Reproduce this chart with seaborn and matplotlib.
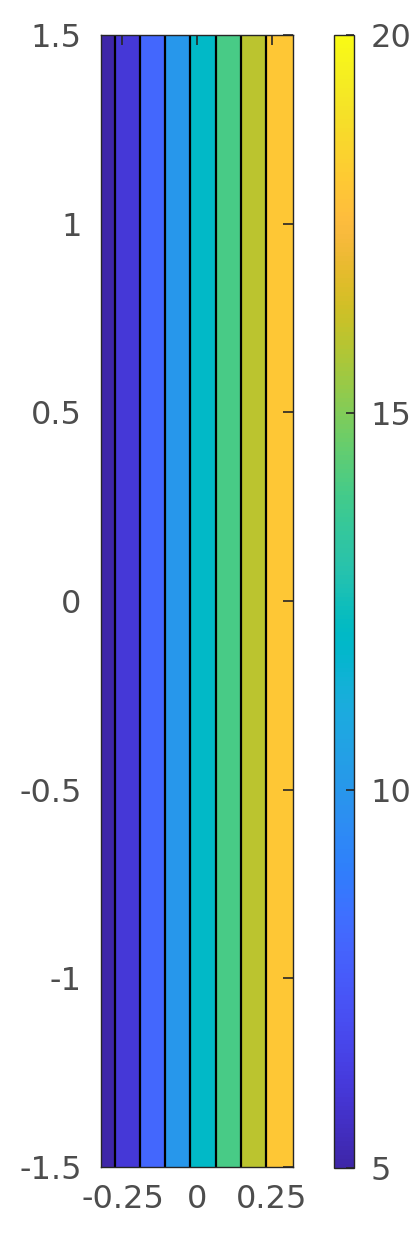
import numpy as np
import seaborn as sns
import matplotlib.pyplot as plt
import matplotlib as mpl

# field: z grows linearly from left to right, constant along y
x_edges = [-0.322, 0.322]
y_edges = [-1.5, 1.5]
z_left_right = [4.9, 20.15]

# contour levels (MATLAB style: band colored by its lower level)
contour_levels = [6, 8, 10, 12, 14, 16, 18]
band_values = [5, 6, 8, 10, 12, 14, 16, 18]

x_ticks = [-0.25, 0, 0.25]
x_ticklabels = ['-0.25', '0', '0.25']
y_ticks = [-1.5, -1, -0.5, 0, 0.5, 1, 1.5]
y_ticklabels = ['-1.5', '-1', '-0.5', '0', '0.5', '1', '1.5']
cbar_ticks = [5, 10, 15, 20]
cbar_ticklabels = ['5', '10', '15', '20']
clim = [5, 20]

# parula(64)
parula = [
    (0.2422, 0.1504, 0.6603), (0.2504, 0.1650, 0.7076), (0.2578, 0.1818, 0.7511), (0.2647, 0.1978, 0.7952),
    (0.2706, 0.2147, 0.8364), (0.2751, 0.2342, 0.8710), (0.2783, 0.2559, 0.8991), (0.2803, 0.2782, 0.9221),
    (0.2813, 0.3006, 0.9414), (0.2810, 0.3228, 0.9579), (0.2795, 0.3447, 0.9717), (0.2760, 0.3667, 0.9829),
    (0.2699, 0.3892, 0.9906), (0.2602, 0.4123, 0.9952), (0.2440, 0.4358, 0.9988), (0.2206, 0.4603, 0.9973),
    (0.1963, 0.4847, 0.9892), (0.1834, 0.5074, 0.9798), (0.1786, 0.5289, 0.9682), (0.1764, 0.5499, 0.9520),
    (0.1687, 0.5703, 0.9359), (0.1540, 0.5902, 0.9218), (0.1460, 0.6091, 0.9079), (0.1380, 0.6276, 0.8973),
    (0.1248, 0.6459, 0.8883), (0.1113, 0.6635, 0.8763), (0.0952, 0.6798, 0.8598), (0.0689, 0.6948, 0.8394),
    (0.0297, 0.7082, 0.8163), (0.0036, 0.7203, 0.7917), (0.0067, 0.7312, 0.7660), (0.0433, 0.7411, 0.7394),
    (0.0964, 0.7500, 0.7120), (0.1408, 0.7584, 0.6842), (0.1717, 0.7670, 0.6554), (0.1938, 0.7758, 0.6251),
    (0.2161, 0.7843, 0.5923), (0.2470, 0.7918, 0.5567), (0.2906, 0.7973, 0.5188), (0.3406, 0.8008, 0.4789),
    (0.3909, 0.8029, 0.4354), (0.4456, 0.8024, 0.3909), (0.5044, 0.7993, 0.3480), (0.5616, 0.7942, 0.3045),
    (0.6174, 0.7876, 0.2612), (0.6720, 0.7793, 0.2227), (0.7242, 0.7698, 0.1910), (0.7738, 0.7598, 0.1646),
    (0.8203, 0.7498, 0.1535), (0.8634, 0.7406, 0.1596), (0.9035, 0.7330, 0.1774), (0.9393, 0.7288, 0.2100),
    (0.9728, 0.7298, 0.2394), (0.9956, 0.7434, 0.2371), (0.9970, 0.7659, 0.2199), (0.9952, 0.7893, 0.2028),
    (0.9892, 0.8136, 0.1885), (0.9786, 0.8386, 0.1766), (0.9676, 0.8639, 0.1643), (0.9610, 0.8890, 0.1537),
    (0.9597, 0.9135, 0.1423), (0.9628, 0.9373, 0.1265), (0.9691, 0.9606, 0.1064), (0.9769, 0.9839, 0.0805),
]

sns.set_style("white")
plt.rcParams['font.family'] = ['DejaVu Sans']
plt.rcParams['axes.unicode_minus'] = False

cmap = sns.blend_palette(parula, n_colors=256, as_cmap=True)
norm = mpl.colors.Normalize(vmin=clim[0], vmax=clim[1])

X, Y = np.meshgrid(x_edges, y_edges)
Z = np.array([z_left_right, z_left_right])

W, H = 419, 1240
fig = plt.figure(figsize=(W / 100, H / 100), dpi=100)
ax = fig.add_axes([101 / W, 1 - 1167 / H, 192 / W, 1132 / H])
cax = fig.add_axes([334 / W, 1 - 1168 / H, 20 / W, 1133 / H])

fill_levels = [min(z_left_right) - 1] + contour_levels + [max(z_left_right) + 1]
ax.contourf(X, Y, Z, levels=fill_levels, colors=[cmap(norm(v)) for v in band_values])
ax.contour(X, Y, Z, levels=contour_levels, colors='k', linewidths=1.6)
ax.set_axisbelow(False)

ax.set_xlim(x_edges)
ax.set_ylim(y_edges)
ax.set_xticks(x_ticks)
ax.set_xticklabels(x_ticklabels)
ax.set_yticks(y_ticks)
ax.set_yticklabels(y_ticklabels)

axis_col = '#262626'
text_col = '#4d4d4d'
fs = 23
for spine in ax.spines.values():
    spine.set_visible(True)
    spine.set_color(axis_col)
    spine.set_linewidth(1.0)
ax.tick_params(axis='both', direction='in', length=7, width=1.2, color=axis_col,
               labelcolor=text_col, labelsize=fs, top=True, right=True)
ax.tick_params(axis='y', pad=14)
ax.tick_params(axis='x', pad=12)

sm = mpl.cm.ScalarMappable(norm=norm, cmap=cmap)
cb = fig.colorbar(sm, cax=cax)
cb.set_ticks(cbar_ticks)
cb.set_ticklabels(cbar_ticklabels)
cb.outline.set_edgecolor(axis_col)
cb.outline.set_linewidth(1.0)
cax.set_axisbelow(False)
cax.tick_params(direction='in', length=6, width=1.2, color=axis_col,
                labelcolor=text_col, labelsize=fs, pad=12)

fig.savefig('out.png', dpi=100)
